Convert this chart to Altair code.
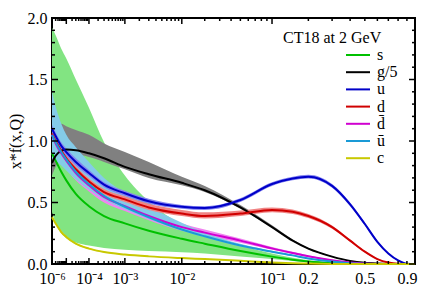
import altair as alt
import pandas as pd

# ---------------- data ----------------
X = [1e-6, 2e-6, 5e-6, 1e-5, 3e-5, 1e-4, 3e-4, 1e-3, 3e-3, 1e-2, 2e-2, 5e-2,
     0.1, 0.15, 0.2, 0.3, 0.4, 0.5, 0.6, 0.7, 0.8, 0.9, 1.0]

S_C  = [0.90, 0.84, 0.75, 0.68, 0.57, 0.47, 0.39, 0.33, 0.27, 0.205, 0.165, 0.105, 0.06, 0.035, 0.02, 0.007, 0.002, 0.0005, 0, 0, 0, 0, 0]
S_LO = [0.42, 0.33, 0.25, 0.21, 0.175, 0.15, 0.13, 0.115, 0.105, 0.095, 0.085, 0.06, 0.04, 0.025, 0.015, 0.005, 0.001, 0, 0, 0, 0, 0, 0]
S_HI = [1.92, 1.86, 1.75, 1.67, 1.50, 1.27, 0.99, 0.72, 0.51, 0.32, 0.24, 0.15, 0.085, 0.05, 0.03, 0.01, 0.003, 0.001, 0, 0, 0, 0, 0]

G_C  = [0.82, 0.88, 0.92, 0.93, 0.925, 0.90, 0.86, 0.79, 0.73, 0.66, 0.60, 0.46, 0.30, 0.19, 0.125, 0.06, 0.025, 0.01, 0.004, 0.001, 0, 0, 0]
G_LO = [0.72, 0.79, 0.86, 0.88, 0.89, 0.87, 0.83, 0.77, 0.70, 0.64, 0.585, 0.45, 0.295, 0.185, 0.12, 0.058, 0.024, 0.01, 0.004, 0.001, 0, 0, 0]
G_HI = [1.13, 1.14, 1.14, 1.12, 1.09, 1.05, 0.98, 0.91, 0.83, 0.71, 0.635, 0.48, 0.315, 0.20, 0.13, 0.063, 0.027, 0.011, 0.004, 0.001, 0, 0, 0]

U_C  = [1.10, 1.04, 0.96, 0.91, 0.83, 0.74, 0.645, 0.575, 0.51, 0.465, 0.455, 0.52, 0.65, 0.695, 0.71, 0.635, 0.485, 0.325, 0.18, 0.086, 0.03, 0.003, 0]
U_LO = [1.07, 1.01, 0.93, 0.88, 0.80, 0.715, 0.625, 0.555, 0.49, 0.45, 0.44, 0.505, 0.635, 0.68, 0.695, 0.62, 0.47, 0.313, 0.17, 0.08, 0.027, 0.002, 0]
U_HI = [1.13, 1.07, 0.99, 0.94, 0.86, 0.765, 0.665, 0.595, 0.53, 0.48, 0.47, 0.535, 0.665, 0.71, 0.725, 0.65, 0.50, 0.337, 0.19, 0.092, 0.033, 0.004, 0]

D_C  = [1.06, 1.00, 0.92, 0.86, 0.77, 0.67, 0.585, 0.525, 0.46, 0.41, 0.39, 0.41, 0.44, 0.425, 0.39, 0.30, 0.19, 0.10, 0.04, 0.012, 0.002, 0, 0]
D_LO = [1.03, 0.97, 0.89, 0.83, 0.745, 0.645, 0.565, 0.505, 0.44, 0.39, 0.37, 0.39, 0.42, 0.407, 0.373, 0.286, 0.18, 0.093, 0.036, 0.01, 0.001, 0, 0]
D_HI = [1.09, 1.03, 0.95, 0.89, 0.795, 0.695, 0.61, 0.55, 0.49, 0.44, 0.42, 0.435, 0.46, 0.443, 0.407, 0.314, 0.20, 0.107, 0.044, 0.014, 0.003, 0, 0]

DB_C  = [1.05, 0.98, 0.90, 0.84, 0.74, 0.64, 0.545, 0.47, 0.39, 0.30, 0.255, 0.19, 0.127, 0.09, 0.063, 0.03, 0.012, 0.004, 0.001, 0, 0, 0, 0]
DB_LO = [0.95, 0.89, 0.82, 0.77, 0.68, 0.59, 0.50, 0.43, 0.355, 0.27, 0.23, 0.172, 0.115, 0.081, 0.056, 0.026, 0.01, 0.003, 0.001, 0, 0, 0, 0]
DB_HI = [1.15, 1.07, 0.98, 0.91, 0.80, 0.69, 0.585, 0.51, 0.425, 0.33, 0.28, 0.208, 0.139, 0.099, 0.07, 0.034, 0.014, 0.005, 0.001, 0, 0, 0, 0]

UB_C  = [1.05, 0.99, 0.91, 0.85, 0.75, 0.65, 0.555, 0.465, 0.38, 0.28, 0.225, 0.15, 0.10, 0.07, 0.045, 0.02, 0.007, 0.002, 0, 0, 0, 0, 0]
UB_LO = [0.86, 0.84, 0.80, 0.76, 0.69, 0.605, 0.525, 0.445, 0.365, 0.27, 0.217, 0.143, 0.095, 0.066, 0.042, 0.018, 0.006, 0.002, 0, 0, 0, 0, 0]
UB_HI = [1.40, 1.28, 1.14, 1.05, 0.95, 0.83, 0.70, 0.58, 0.47, 0.335, 0.255, 0.165, 0.107, 0.075, 0.049, 0.022, 0.008, 0.002, 0, 0, 0, 0, 0]

C_C  = [0.38, 0.33, 0.26, 0.22, 0.165, 0.125, 0.097, 0.077, 0.062, 0.048, 0.04, 0.026, 0.013, 0.007, 0.004, 0.001, 0, 0, 0, 0, 0, 0, 0]
C_LO = [0.37, 0.32, 0.25, 0.212, 0.159, 0.12, 0.093, 0.074, 0.06, 0.046, 0.038, 0.025, 0.012, 0.006, 0.003, 0.001, 0, 0, 0, 0, 0, 0, 0]
C_HI = [0.39, 0.34, 0.27, 0.228, 0.171, 0.13, 0.101, 0.08, 0.064, 0.05, 0.042, 0.027, 0.014, 0.008, 0.005, 0.001, 0, 0, 0, 0, 0, 0, 0]

NAMES = ["s", "g/5", "u", "d", "d\u0304", "\u016b", "c"]
LINE_COLORS = ["#00c000", "#000000", "#0000c8", "#d00000", "#d000d0", "#1a9ad6", "#c8c800"]
BAND_COLORS = ["#82e482", "#808080", "#8484f0", "#f08484", "#f084f0", "#84cbe8", "#e4e484"]
SERIES = [(S_C, S_LO, S_HI), (G_C, G_LO, G_HI), (U_C, U_LO, U_HI), (D_C, D_LO, D_HI),
          (DB_C, DB_LO, DB_HI), (UB_C, UB_LO, UB_HI), (C_C, C_LO, C_HI)]
BAND_ORDER = ["s", "g/5", "d\u0304", "\u016b", "d", "u", "c"]

X_LABELS = [1e-6, 1e-4, 1e-3, 1e-2, 0.1, 0.2, 0.5, 0.9]
X_MAJOR = [1e-6, 1e-5, 1e-4, 1e-3, 1e-2, 1e-1, 1.0]
X_MINOR = [m * 10.0 ** e for e in range(-6, 0) for m in range(2, 10)]
Y_MAJOR = [0.0, 0.5, 1.0, 1.5, 2.0]
Y_MINOR = [i / 10 for i in range(1, 20) if i % 5 != 0]
TITLE = "CT18 at 2 GeV"

# ---------------- build tables ----------------
rows = []
for name, (c, lo, hi) in zip(NAMES, SERIES):
    for xv, cv, lv, hv in zip(X, c, lo, hi):
        rows.append({"x": xv, "f": name, "c": cv, "lo": lv, "hi": hv})
df = pd.DataFrame(rows)

W, H = 363, 246
FONT = "Liberation Serif"
xscale = alt.Scale(type="pow", exponent=0.2, domain=[1e-6, 1.0], nice=False, zero=False)
yscale = alt.Scale(domain=[0, 2], nice=False, zero=False)

label_expr = ("datum.value < 5e-6 ? '10\u207b\u2076' : datum.value < 5e-5 ? '10\u207b\u2075' : "
              "datum.value < 5e-4 ? '10\u207b\u2074' : datum.value < 5e-3 ? '10\u207b\u00b3' : "
              "datum.value < 5e-2 ? '10\u207b\u00b2' : datum.value < 0.15 ? '10\u207b\u00b9' : "
              "format(datum.value, '.1f')")

xaxis = alt.Axis(values=X_LABELS, labelExpr=label_expr, ticks=False, domain=False, grid=False,
                 labelFont=FONT, labelFontSize=16, labelColor="black", labelPadding=6,
                 labelFlush=False, labelOverlap=False,
                 titleFont=FONT, titleFontSize=16, titleFontWeight="normal",
                 titleColor="black", titleY=277, titleBaseline="alphabetic")
yaxis = alt.Axis(values=Y_MAJOR, format=".1f", ticks=False, domain=False, grid=False,
                 labelFont=FONT, labelFontSize=16, labelColor="black", labelPadding=5,
                 titleFont=FONT, titleFontSize=16, titleFontWeight="normal",
                 titleColor="black", titleX=-37, titleY=H / 2, titleBaseline="middle", titleAngle=-90)


def xenc(field, with_axis=False):
    if with_axis:
        return alt.X(field, scale=xscale, axis=xaxis, title="x")
    return alt.X(field, scale=xscale, title="x")


def yenc(field, with_axis=False):
    if with_axis:
        return alt.Y(field, scale=yscale, axis=yaxis, title="x*f(x,Q)")
    return alt.Y(field, scale=yscale, title="x*f(x,Q)")


layers = []
for name in BAND_ORDER:
    i = NAMES.index(name)
    layers.append(
        alt.Chart(df).transform_filter(alt.datum.f == name)
        .mark_area(color=BAND_COLORS[i], opacity=1, interpolate="monotone")
        .encode(x=xenc("x:Q", True), y=yenc("lo:Q", True), y2="hi:Q")
    )

lines = alt.Chart(df).mark_line(interpolate="monotone", strokeWidth=2).encode(
    x=xenc("x:Q"),
    y=yenc("c:Q"),
    color=alt.Color("f:N", scale=alt.Scale(domain=NAMES, range=LINE_COLORS),
                    sort=NAMES,
                    legend=alt.Legend(orient="none", legendX=297, legendY=28, title=None,
                                      symbolType="M-1.5,0H1.5", symbolSize=256,
                                      symbolStrokeWidth=2, labelFont=FONT, labelFontSize=16,
                                      labelColor="black", labelOffset=10, rowPadding=0.2,
                                      padding=0)),
    order=alt.Order("x:Q"),
)
layers.append(lines)

# inward ticks (bottom/top, left/right)
tx_major = pd.DataFrame({"x": X_MAJOR})
tx_minor = pd.DataFrame({"x": X_MINOR})
ty_major = pd.DataFrame({"c": Y_MAJOR})
ty_minor = pd.DataFrame({"c": Y_MINOR})
for tdf, L in [(tx_major, 6), (tx_minor, 3)]:
    layers.append(alt.Chart(tdf).mark_rule(color="black", strokeWidth=1.5).encode(
        x=xenc("x:Q"), y=alt.value(H), y2=alt.value(H - L)))
    layers.append(alt.Chart(tdf).mark_rule(color="black", strokeWidth=1.5).encode(
        x=xenc("x:Q"), y=alt.value(0), y2=alt.value(L)))
for tdf, L in [(ty_major, 6), (ty_minor, 3)]:
    layers.append(alt.Chart(tdf).mark_rule(color="black", strokeWidth=1.5).encode(
        y=yenc("c:Q"), x=alt.value(0), x2=alt.value(L)))
    layers.append(alt.Chart(tdf).mark_rule(color="black", strokeWidth=1.5).encode(
        y=yenc("c:Q"), x=alt.value(W), x2=alt.value(W - L)))

title_df = pd.DataFrame({"t": [TITLE]})
layers.append(alt.Chart(title_df).mark_text(align="left", baseline="middle", font=FONT,
                                            fontSize=16, color="black").encode(
    text="t:N", x=alt.value(231), y=alt.value(20)))

chart = alt.layer(*layers).properties(
    width=W, height=H,
    autosize=alt.AutoSizeParams(type="none"),
    padding={"left": 44, "top": 10, "right": 9, "bottom": 40},
    background="white",
).configure_view(stroke="black", strokeWidth=2).configure_axis(
    labelFont=FONT, titleFont=FONT, labelFontSize=16, titleFontSize=16,
    titleFontWeight="normal", labelColor="black", titleColor="black"
).configure_legend(labelFont=FONT).configure_text(font=FONT)

chart.save("out.html", embed_options={"renderer": "svg", "actions": False})
